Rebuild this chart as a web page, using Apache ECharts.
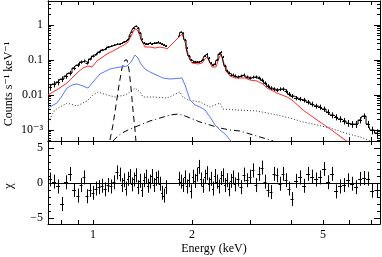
<!DOCTYPE html>
<html><head><meta charset="utf-8">
<script src="https://cdn.jsdelivr.net/npm/echarts@6/dist/echarts.min.js"></script>
<style>html,body{margin:0;padding:0;background:#fff}#c{width:382px;height:257px}</style>
</head><body><div id="c"></div><script>
// ---------------- data ----------------
const energy = [
 0.740,0.761,0.783,0.805,0.828,0.851,0.876,0.900,
 0.920,0.939,0.959,0.979,1.000,1.021,1.043,1.065,1.088,1.111,1.134,1.158,1.183,1.208,
 1.225,1.242,1.260,1.278,1.296,1.314,1.332,1.351,1.370,1.390,1.409,1.429,1.449,1.470,1.490,1.511,1.532,1.554,1.576,1.598,1.621,1.644,1.667,
 1.826,1.851,1.877,1.904,1.931,1.958,1.986,2.014,2.042,2.071,2.100,2.130,2.160,2.190,2.221,2.253,2.284,2.316,2.349,2.382,2.416,2.450,2.484,2.519,2.555,2.591,2.628,2.665,2.702,
 2.759,2.818,2.877,2.938,3.000,3.064,3.128,3.195,3.263,3.332,3.402,3.475,3.549,3.624,3.701,3.780,3.860,3.941,4.026,
 4.140,4.258,4.378,4.503,4.631,4.762,4.898,5.036,5.180,5.326,5.478,5.633,5.793,5.958,6.126,6.301,6.480,6.663,6.853,7.047,
 7.298];
const countRate = [
 0.0169,0.0206,0.0235,0.0286,0.0349,0.0425,0.0591,0.0720,
 0.0877,0.0936,0.0821,0.107,0.130,0.148,0.169,0.193,0.206,0.235,0.251,0.268,0.286,0.286,
 0.306,0.327,0.349,0.398,0.485,0.631,0.821,0.936,0.821,0.591,0.398,0.306,0.286,0.286,0.306,0.286,0.306,0.306,0.327,0.306,0.286,0.268,0.251,
 0.485,0.631,0.591,0.373,0.220,0.130,0.100,0.0877,0.0877,0.0877,0.0877,0.0936,0.100,0.130,0.148,0.114,0.0821,0.0720,0.0769,0.100,0.148,0.169,0.122,0.0674,0.0485,0.0425,0.0373,0.0373,0.0349,
 0.0327,0.0349,0.0373,0.0327,0.0306,0.0327,0.0327,0.0306,0.0268,0.0220,0.0181,0.0158,0.0148,0.0139,0.0148,0.0148,0.0130,0.0107,0.00936,
 0.00821,0.00769,0.00720,0.00631,0.00553,0.00485,0.00454,0.00398,0.00327,0.00268,0.00235,0.00206,0.00181,0.00158,0.00148,0.00148,0.00193,0.00251,0.00148,0.00100,
 0.000821];
const rateRelErr = [
 0.22,0.2,0.2,0.18,0.17,0.15,0.13,0.12,
 0.11,0.1,0.1,0.09,0.09,0.08,0.08,0.07,0.07,0.07,0.06,0.06,0.06,0.06,
 0.06,0.06,0.06,0.05,0.05,0.04,0.04,0.04,0.04,0.05,0.05,0.06,0.06,0.06,0.06,0.06,0.06,0.06,0.06,0.06,0.06,0.06,0.06,
 0.05,0.05,0.05,0.05,0.06,0.07,0.07,0.07,0.07,0.07,0.07,0.07,0.07,0.06,0.06,0.07,0.07,0.08,0.08,0.07,0.06,0.06,0.07,0.08,0.09,0.09,0.1,0.1,0.1,
 0.1,0.1,0.1,0.1,0.1,0.1,0.1,0.1,0.11,0.11,0.12,0.12,0.12,0.12,0.12,0.12,0.13,0.14,0.14,
 0.14,0.14,0.15,0.15,0.16,0.16,0.17,0.17,0.18,0.19,0.2,0.2,0.21,0.22,0.22,0.23,0.2,0.18,0.23,0.25,
 0.28];
const chi = [
 0.5,0.2,-0.5,-3.0,0.1,1.3,-1.0,-1.8,
 -0.3,0.8,-1.9,-1.0,-1.4,-0.8,-0.6,-0.4,-0.9,-0.3,-0.5,0.1,1.5,1.2,
 -0.3,0.4,-0.8,0.6,1.0,-0.2,0.5,1.1,-0.6,0.3,-1.0,0.4,0.9,-0.4,0.2,1.0,-0.3,0.6,0.8,-0.1,-1.4,-1.8,-0.6,
 0.6,0.2,-0.3,0.8,-0.5,0.4,-1.2,0.9,0.3,1.2,2.3,0.5,-0.4,0.9,1.4,-0.2,0.6,-0.8,1.0,0.2,-0.5,0.7,1.1,-0.3,0.4,-0.9,0.3,0.8,-0.2,
 0.5,-0.6,1.2,0.4,0.9,1.8,-0.3,1.3,2.2,0.2,-1.0,-1.3,1.3,1.1,-0.1,1.3,0.4,-0.8,-2.3,
 0.3,0.8,-0.4,1.3,0.9,0.5,0.8,2.0,0.1,1.3,-1.2,-0.5,-0.3,0.4,-0.1,-0.6,0.6,0.7,0.6,-1.1,
 -1.0];

// model components (energy keV, counts s^-1 keV^-1)
const redE = [0.730,0.783,0.834,0.894,0.932,0.966,0.993,1.028,1.103,1.166,1.208,1.242,1.278,1.305,1.332,1.351,1.370,1.399,1.439,1.490,1.543,1.598,1.655,1.679,1.864,1.904,1.931,1.958,2.000,2.085,2.145,2.190,2.221,2.253,2.300,2.365,2.416,2.450,2.484,2.537,2.609,2.702,2.897,3.000,3.152,3.286,3.380,3.624,3.888,4.026,4.348,4.797,5.253,5.834,6.257];
const redV = [0.0100,0.0148,0.0220,0.0425,0.0591,0.0674,0.0631,0.0936,0.148,0.193,0.235,0.268,0.327,0.485,0.720,0.769,0.674,0.398,0.235,0.235,0.220,0.235,0.220,0.206,0.553,0.327,0.193,0.114,0.0821,0.0769,0.0821,0.107,0.122,0.0936,0.0631,0.0631,0.114,0.148,0.100,0.0485,0.0349,0.0306,0.0306,0.0268,0.0251,0.0206,0.0158,0.0114,0.00877,0.00720,0.00373,0.00193,0.00107,0.000518,0.000334];
const blueE = [0.730,0.777,0.805,0.834,0.863,0.894,0.932,0.966,1.000,1.050,1.126,1.208,1.269,1.305,1.342,1.370,1.399,1.439,1.490,1.632,1.714,1.864,1.904,1.972,2.042,2.115,2.190,2.268,2.349,2.432,2.519,2.609,2.702];
const blueV = [0.00425,0.00591,0.00936,0.0158,0.0193,0.0206,0.0181,0.0158,0.0235,0.0398,0.0553,0.0631,0.0674,0.0877,0.139,0.114,0.0769,0.0553,0.0454,0.0306,0.0286,0.0306,0.0193,0.00720,0.00518,0.00454,0.00373,0.00235,0.00139,0.00100,0.000769,0.000518,0.000355];
const dotE = [0.730,0.766,0.834,0.894,0.959,1.000,1.036,1.103,1.166,1.251,1.296,1.342,1.390,1.419,1.522,1.679,1.838,1.877,1.944,2.115,2.268,2.432,2.484,2.740,3.152,3.624,3.970,4.348,4.797,5.253,5.834,6.480,6.950];
const dotV = [0.00169,0.00373,0.00591,0.00485,0.00674,0.0100,0.0122,0.0100,0.00877,0.0100,0.0122,0.0158,0.0122,0.00877,0.00877,0.00821,0.0122,0.00877,0.00720,0.00631,0.00454,0.00591,0.00398,0.00373,0.00349,0.00268,0.00220,0.00169,0.00139,0.00114,0.000821,0.000631,0.000487];
const dashE = [1.126,1.150,1.175,1.200,1.225,1.251,1.269,1.287,1.305,1.323,1.342,1.351];
const dashV = [0.000518,0.00139,0.00518,0.0193,0.0591,0.100,0.100,0.0518,0.0158,0.00373,0.00100,0.000463];
const dashDotE = [1.150,1.191,1.225,1.296,1.390,1.490,1.598,1.714,1.813,1.904,1.972,2.115,2.268,2.432,2.609,2.798,3.000,3.218,3.525];
const dashDotV = [0.000487,0.000674,0.000821,0.00107,0.00139,0.00181,0.00220,0.00268,0.00286,0.00251,0.00220,0.00169,0.00139,0.00114,0.00100,0.000936,0.000769,0.000631,0.000487];

// axes & ticks
const energyRange = [0.73, 7.45];
const rateRange = [4.85e-4, 4.85];
const chiRange = [-5.86, 6];
const energyTicks = [1, 2, 5];
const energyTickLabels = ['1', '2', '5'];
const energyMinorTicks = [0.8, 0.9, 3, 4, 6, 7];
const rateTicks = [0.001, 0.01, 0.1, 1];
const rateTickLabels = ['10\u207B\u00B3', '0.01', '0.1', '1'];
const chiTicks = [-5, 0, 5];
const chiTickLabels = ['\u22125', '0', '5'];
const chiMinorTicks = [-5,-4,-3,-2,-1,0,1,2,3,4,5];

// ---------------- build ----------------
const L = Math.log10;
const FONT = '"Liberation Serif","DejaVu Serif",serif';
const lx = energy.map(L);
function halfWidths(arr) {
  return arr.map((v, i) => {
    const dl = i > 0 ? v - arr[i-1] : Infinity;
    const dr = i < arr.length-1 ? arr[i+1] - v : Infinity;
    return Math.min(dl, dr) / 2;
  });
}
const hw = halfWidths(lx);
const rateCross = energy.map((e, i) => [lx[i], L(countRate[i]), lx[i]-hw[i], lx[i]+hw[i],
  L(countRate[i]*(1-rateRelErr[i])), L(countRate[i]*(1+rateRelErr[i]))]);
const chiCross = energy.map((e, i) => [lx[i], chi[i], lx[i]-hw[i], lx[i]+hw[i], chi[i]-1, chi[i]+1]);
// split the model step line where channels were ignored (gap in energy)
const stepSegments = [[]];
energy.forEach((e, i) => {
  if (i > 0 && (lx[i]-lx[i-1]) > 6*hw[i]) stepSegments.push([]);
  stepSegments[stepSegments.length-1].push([lx[i], L(countRate[i])]);
});
const curve = (E, V) => E.map((e, i) => [L(e), L(V[i])]);

const minorRate = [];
for (let d = -4; d <= 0; d++) for (let k = 2; k <= 9; k++) {
  const v = k * Math.pow(10, d);
  if (v > rateRange[0] && v < rateRange[1]) minorRate.push(L(v));
}

function crossItem(params, api) {
  const x = api.value(0), y = api.value(1);
  const a = api.coord([api.value(2), y]), b = api.coord([api.value(3), y]);
  const c = api.coord([x, api.value(4)]), d = api.coord([x, api.value(5)]);
  const px = Math.round(c[0]) + 0.5, py = Math.round(a[1]) + 0.5;
  const st = { stroke: '#000', lineWidth: 1 };
  return { type: 'group', children: [
    { type: 'line', shape: { x1: a[0], y1: py, x2: b[0], y2: py }, style: st },
    { type: 'line', shape: { x1: px, y1: c[1], x2: px, y2: d[1] }, style: st }
  ]};
}

const axisLine = { show: true, onZero: false, lineStyle: { color: '#000', width: 1 } };
function xAx(grid, pos, showLabel) {
  return {
    type: 'value', gridIndex: grid, position: pos, min: L(energyRange[0]), max: L(energyRange[1]),
    axisLine, splitLine: { show: false },
    axisTick: { show: true, inside: true, length: 4, lineStyle: { color: '#000' },
      customValues: energyTicks.concat(energyMinorTicks).map(L) },
    axisLabel: showLabel ? { show: true, margin: 5, color: '#000', fontFamily: FONT, fontSize: 12,
      customValues: energyTicks.map(L),
      formatter: v => { const i = energyTicks.findIndex(t => Math.abs(L(t)-v) < 1e-6); return i >= 0 ? energyTickLabels[i] : ''; } }
      : { show: false }
  };
}
function yAx(grid, pos, rng, ticks, len, labels, labelVals) {
  return {
    type: 'value', gridIndex: grid, position: pos, min: rng[0], max: rng[1],
    axisLine, splitLine: { show: false },
    axisTick: { show: true, inside: true, length: len, lineStyle: { color: '#000' }, customValues: ticks },
    axisLabel: labels ? { show: true, margin: 5, color: '#000', fontFamily: FONT, fontSize: 12,
      customValues: labelVals,
      formatter: v => { const i = labelVals.findIndex(t => Math.abs(t-v) < 1e-6); return i >= 0 ? labels[i] : ''; } }
      : { show: false }
  };
}
const rateR = [L(rateRange[0]), L(rateRange[1])];
const rateTickLog = rateTicks.map(L);

const stepSeries = stepSegments.map(seg => ({
  type: 'line', xAxisIndex: 0, yAxisIndex: 0, data: seg, step: 'middle', symbol: 'none',
  lineStyle: { color: '#000', width: 1 }
}));

const option = {
  animation: false,
  backgroundColor: '#fff',
  grid: [
    { left: 48, right: 2, top: 1, height: 140 },
    { left: 48, right: 2, top: 141, height: 83 }
  ],
  xAxis: [
    xAx(0, 'bottom', false), xAx(0, 'top', false),
    Object.assign(xAx(1, 'bottom', true), { name: 'Energy (keV)', nameLocation: 'middle', nameGap: 19,
      nameTextStyle: { color: '#000', fontFamily: FONT, fontSize: 12 } }),
    xAx(1, 'top', false)
  ],
  yAxis: [
    yAx(0, 'left', rateR, rateTickLog, 6, rateTickLabels, rateTickLog),
    yAx(0, 'left', rateR, minorRate, 3),
    yAx(0, 'right', rateR, rateTickLog, 6),
    yAx(0, 'right', rateR, minorRate, 3),
    yAx(1, 'left', chiRange, chiTicks, 6, chiTickLabels, chiTicks),
    yAx(1, 'left', chiRange, chiMinorTicks, 3),
    yAx(1, 'right', chiRange, chiTicks, 6),
    yAx(1, 'right', chiRange, chiMinorTicks, 3)
  ],
  graphic: [
    { type: 'text', x: 9, y: 84, rotation: Math.PI/2,
      style: { text: 'Counts s\u207B\u00B9 keV\u207B\u00B9', font: '12px ' + FONT, fill: '#000', align: 'center', verticalAlign: 'middle' } },
    { type: 'text', x: 9, y: 186, rotation: Math.PI/2,
      style: { text: '\u03C7', font: '13px ' + FONT, fill: '#000', align: 'center', verticalAlign: 'middle' } }
  ],
  series: [
    { type: 'line', xAxisIndex: 0, yAxisIndex: 0, data: curve(dotE, dotV), symbol: 'none',
      lineStyle: { color: '#333', width: 1, type: [1, 2] } },
    { type: 'line', xAxisIndex: 0, yAxisIndex: 0, data: curve(dashDotE, dashDotV), symbol: 'none',
      lineStyle: { color: '#000', width: 1, type: [6, 3, 1, 3] } },
    { type: 'line', xAxisIndex: 0, yAxisIndex: 0, data: curve(dashE, dashV), symbol: 'none',
      lineStyle: { color: '#000', width: 1, type: [6, 4] } },
    { type: 'line', xAxisIndex: 0, yAxisIndex: 0, data: curve(blueE, blueV), symbol: 'none',
      lineStyle: { color: '#5b78ff', width: 1 } },
    { type: 'line', xAxisIndex: 0, yAxisIndex: 0, data: curve(redE, redV), symbol: 'none',
      lineStyle: { color: '#ff2a2a', width: 1 } }
  ].concat(stepSeries).concat([
    { type: 'custom', xAxisIndex: 0, yAxisIndex: 0, data: rateCross, renderItem: crossItem, clip: true },
    { type: 'custom', xAxisIndex: 2, yAxisIndex: 4, data: chiCross, renderItem: crossItem, clip: true,
      markLine: { silent: true, symbol: 'none', label: { show: false },
        lineStyle: { color: '#000', type: 'solid', width: 1 }, data: [{ yAxis: 0 }] } }
  ])
};
echarts.init(document.getElementById('c')).setOption(option);
</script></body></html>
